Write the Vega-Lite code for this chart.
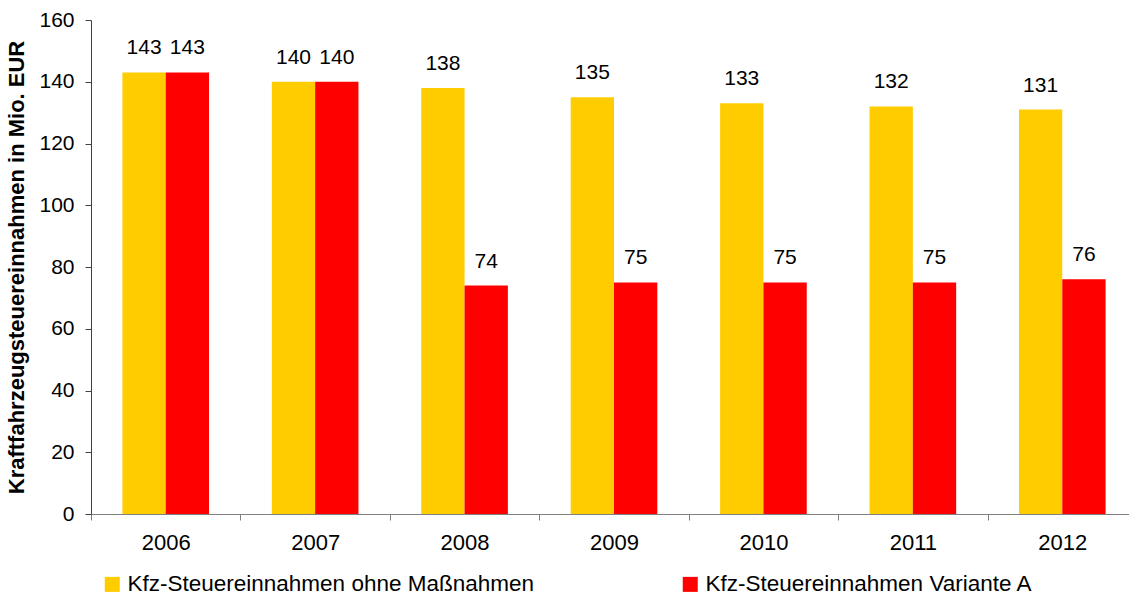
{
  "$schema": "https://vega.github.io/schema/vega-lite/v6.json",
  "width": 1046,
  "height": 494,
  "autosize": {"type": "none"},
  "padding": {"left": 91, "top": 20, "right": 0, "bottom": 81},
  "background": "white",
  "config": {
    "view": {"stroke": null},
    "font": "Liberation Sans",
    "axis": {"labelFont": "Liberation Sans", "titleFont": "Liberation Sans", "labelColor": "#000", "titleColor": "#000"}
  },
  "data": {
    "values": [
      {"year": "2006", "series": "Kfz-Steuereinnahmen ohne Maßnahmen", "value": 143},
      {"year": "2006", "series": "Kfz-Steuereinnahmen Variante A", "value": 143},
      {"year": "2007", "series": "Kfz-Steuereinnahmen ohne Maßnahmen", "value": 140},
      {"year": "2007", "series": "Kfz-Steuereinnahmen Variante A", "value": 140},
      {"year": "2008", "series": "Kfz-Steuereinnahmen ohne Maßnahmen", "value": 138},
      {"year": "2008", "series": "Kfz-Steuereinnahmen Variante A", "value": 74},
      {"year": "2009", "series": "Kfz-Steuereinnahmen ohne Maßnahmen", "value": 135},
      {"year": "2009", "series": "Kfz-Steuereinnahmen Variante A", "value": 75},
      {"year": "2010", "series": "Kfz-Steuereinnahmen ohne Maßnahmen", "value": 133},
      {"year": "2010", "series": "Kfz-Steuereinnahmen Variante A", "value": 75},
      {"year": "2011", "series": "Kfz-Steuereinnahmen ohne Maßnahmen", "value": 132},
      {"year": "2011", "series": "Kfz-Steuereinnahmen Variante A", "value": 75},
      {"year": "2012", "series": "Kfz-Steuereinnahmen ohne Maßnahmen", "value": 131},
      {"year": "2012", "series": "Kfz-Steuereinnahmen Variante A", "value": 76}
    ]
  },
  "encoding": {
    "x": {
      "field": "year",
      "type": "nominal",
      "scale": {"paddingInner": 0, "paddingOuter": 0},
      "axis": {
        "title": null,
        "labelAngle": 0,
        "labelFontSize": 22,
        "labelPadding": 12,
        "bandPosition": 0,
        "tickSize": 6,
        "tickColor": "#808080",
        "domainColor": "#808080",
        "tickBand": "extent"
      }
    },
    "xOffset": {
      "field": "series",
      "type": "nominal",
      "sort": ["Kfz-Steuereinnahmen ohne Maßnahmen", "Kfz-Steuereinnahmen Variante A"],
      "scale": {"paddingInner": 0, "paddingOuter": 0.725}
    },
    "y": {
      "field": "value",
      "type": "quantitative",
      "scale": {"domain": [0, 160], "nice": false},
      "axis": {
        "title": "Kraftfahrzeugsteuereinnahmen in Mio. EUR",
        "titleFontSize": 22,
        "titleFontWeight": "bold",
        "titlePadding": 10,
        "values": [0, 20, 40, 60, 80, 100, 120, 140, 160],
        "labelFontSize": 21,
        "labelPadding": 11,
        "tickSize": 6,
        "tickColor": "#404040",
        "domainColor": "#404040",
        "grid": false
      }
    }
  },
  "layer": [
    {
      "mark": {"type": "bar"},
      "encoding": {
        "color": {
          "field": "series",
          "type": "nominal",
          "scale": {
            "domain": ["Kfz-Steuereinnahmen ohne Maßnahmen", "Kfz-Steuereinnahmen Variante A"],
            "range": ["#FFCC00", "#FF0000"]
          },
          "legend": {
            "title": null,
            "orient": "none",
            "legendX": 10,
            "legendY": 553,
            "direction": "horizontal",
            "symbolType": "square",
            "symbolSize": 225,
            "symbolStrokeWidth": 0,
            "symbolOpacity": 1,
            "labelFontSize": 22.5,
            "labelFont": "Liberation Sans",
            "labelColor": "#000",
            "labelOffset": 4,
            "labelLimit": 700,
            "columnPadding": 145
          }
        }
      }
    },
    {
      "mark": {"type": "text", "baseline": "alphabetic", "dy": -18, "fontSize": 21, "font": "Liberation Sans", "color": "#000"},
      "encoding": {
        "text": {"field": "value", "type": "quantitative"}
      }
    }
  ]
}
